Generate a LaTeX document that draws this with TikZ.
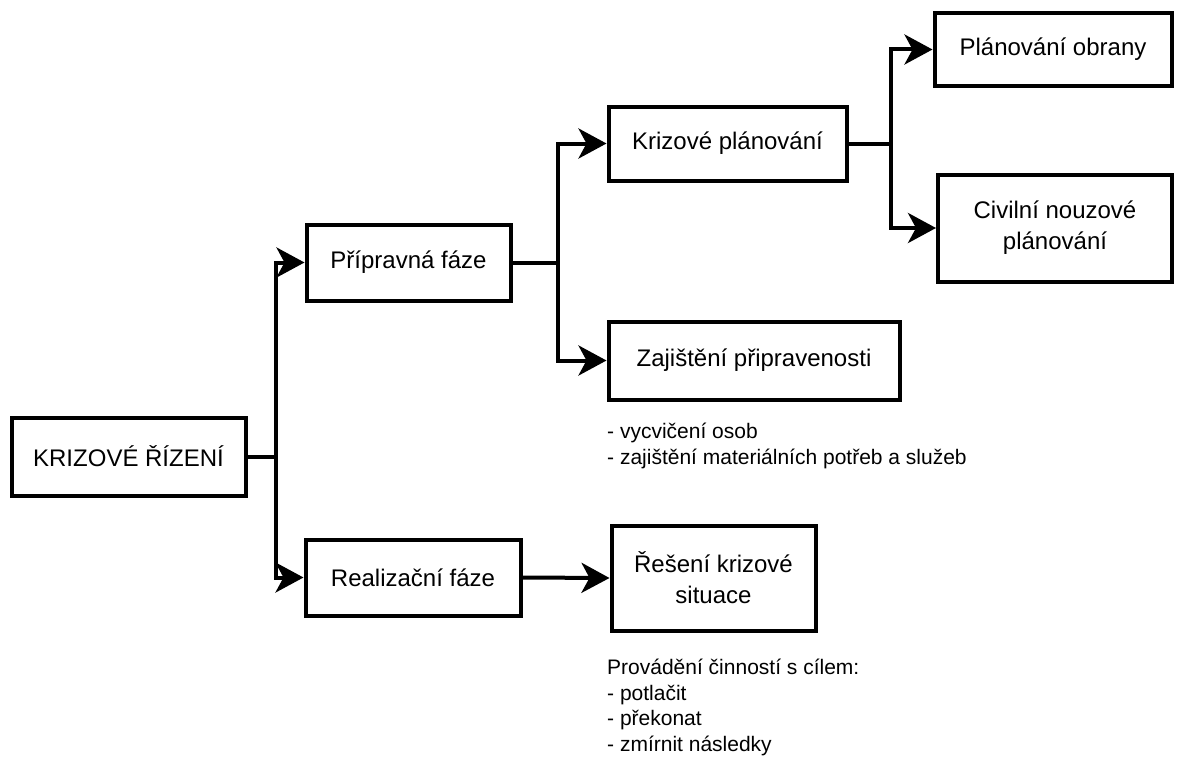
\documentclass[tikz,border=0pt]{standalone}
\usepackage{fontspec}
\setmainfont{Liberation Sans}
\usetikzlibrary{arrows.meta}

\begin{document}
\begin{tikzpicture}[x=1pt,y=1pt,yscale=-1,
    box/.style={draw, line width=4pt, fill=white, inner sep=0pt, align=center, font=\fontsize{24}{31}\selectfont},
    link/.style={line width=4pt},
    arr/.style={line width=4pt, -{Stealth[length=28pt,width=30pt,inset=8pt]}},
    note/.style={anchor=north west, inner sep=0pt, align=left, font=\fontsize{21}{25.5}\selectfont}]
                        \useasboundingbox (0,0) rectangle (1178,760);

                        %Shape: Rectangle [id:krize]
                        \node [box, minimum width=234pt, minimum height=78pt] (krize) at (128.5,456.5) {KRIZOVÉ ŘÍZENÍ};
                        %Shape: Rectangle [id:priprav]
                        \node [box, minimum width=204pt, minimum height=76pt] (priprav) at (408.5,262.5) {Přípravná fáze};
                        %Shape: Rectangle [id:realiz]
                        \node [box, minimum width=215pt, minimum height=76pt] (realiz) at (413,577.5) {Realizační fáze};
                        %Shape: Rectangle [id:kplan]
                        \node [box, minimum width=238pt, minimum height=74pt] (kplan) at (727.5,143.5) {Krizové plánování};
                        %Shape: Rectangle [id:zajist]
                        \node [box, minimum width=291pt, minimum height=78pt] (zajist) at (754,360.5) {Zajištění připravenosti};
                        %Shape: Rectangle [id:reseni]
                        \node [box, minimum width=204pt, minimum height=105pt] (reseni) at (713.5,578) {Řešení krizové\\situace};
                        %Shape: Rectangle [id:obrana]
                        \node [box, minimum width=237pt, minimum height=72pt] (obrana) at (1053,49.5) {Plánování obrany};
                        %Shape: Rectangle [id:civil]
                        \node [box, minimum width=234pt, minimum height=107pt] (civil) at (1055,228) {Civilní nouzové\\plánování};

                        %Straight Lines
                        \draw [link] (krize.east) -- ++(28,0) coordinate (bus1);
                        \draw [arr] (bus1) |- (priprav.west);
                        \draw [arr] (bus1) |- (realiz.west);
                        \draw [link] (priprav.east) -- ++(45,0) coordinate (bus2);
                        \draw [arr] (bus2) |- (kplan.west);
                        \draw [arr] (bus2) |- (zajist.west);
                        \draw [link] (kplan.east) -- ++(42,0) coordinate (bus3);
                        \draw [arr] (bus3) |- (obrana.west);
                        \draw [arr] (bus3) |- (civil.west);
                        \draw [arr] (realiz.east) -- (reseni.west);

                        % Text Node
                        \node [note] (pripnote) at (607,423) {- vycvičení osob\\- zajištění materiálních potřeb a služeb};
                        % Text Node
                        \node [note] (resnote) at (607,659) {Provádění činností s cílem:\\- potlačit\\- překonat\\- zmírnit následky};
                    \end{tikzpicture}
\end{document}
